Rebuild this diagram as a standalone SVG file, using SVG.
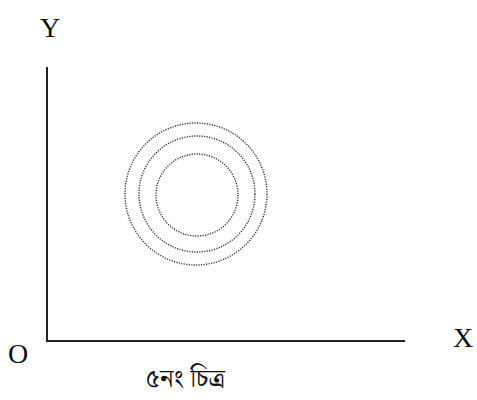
<svg xmlns="http://www.w3.org/2000/svg" width="477" height="400" viewBox="0 0 477 400">
<style>
.axis{stroke:#222;stroke-width:2;fill:none}
.ring{fill:none;stroke:#333;stroke-width:1.4;stroke-dasharray:1.2 1.3}
.lbl{font-family:"Liberation Serif","Times New Roman",serif;font-size:28px;fill:#111;text-anchor:middle}
.cap{font-family:"Noto Serif Bengali","Noto Sans Bengali","Lohit Bengali","Noto Sans",serif;font-size:26px;fill:#111;text-anchor:middle}
</style>
<rect width="477" height="400" fill="#fff"/>
<g id="connectors">
<polyline class="axis" points="47,67 47,341 405,341"/>
</g>
<g id="rings">
<circle class="ring" cx="196" cy="194" r="71"/>
<circle class="ring" cx="197" cy="194" r="58"/>
<circle class="ring" cx="197" cy="195" r="41"/>
</g>
<g id="label-y"><text class="lbl" x="50" y="37">Y</text></g>
<g id="label-o"><text class="lbl" x="18" y="363">O</text></g>
<g id="label-x"><text class="lbl" x="463" y="347">X</text></g>
<g id="caption"><text class="cap" x="185" y="387">৫নং চিত্র</text></g>
</svg>
